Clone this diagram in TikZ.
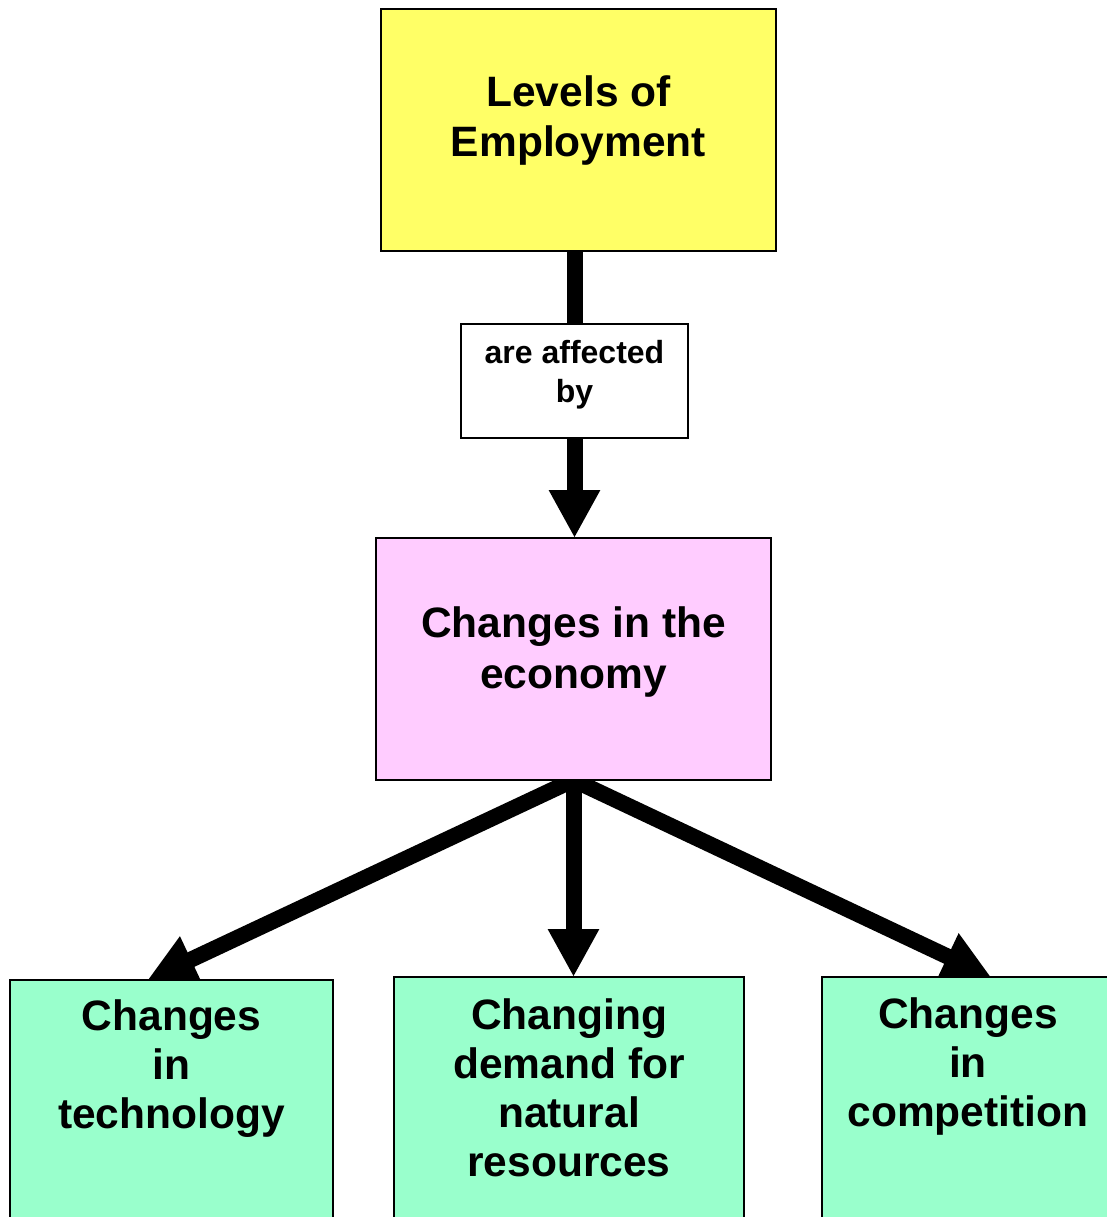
\documentclass[tikz,border=0pt]{standalone}
\usepackage{fontspec}
\setmainfont{Liberation Sans}
\usetikzlibrary{arrows.meta,backgrounds}
\definecolor{ylw}{RGB}{255,255,102}
\definecolor{pnk}{RGB}{255,204,255}
\definecolor{grn}{RGB}{153,255,204}
\newcommand\boxtext[6]{\begin{minipage}[c][#2][t]{#1}\centering\fontsize{#3}{#4}\selectfont\bfseries\vspace*{#5}\strut #6\end{minipage}}
\begin{document}
\begin{tikzpicture}[x=1pt,y=-1pt,
  boxst/.style={draw=black, line width=1.6pt, rectangle, inner sep=0pt, outer sep=0pt},
  conn/.style={line width=16pt, black},
  headtip/.style={-{Triangle[width=48pt,length=48pt]}}]
\path[use as bounding box] (0,0) rectangle (1106,1217);
\node[boxst, fill=ylw] (lev) at (578.5,130) {\boxtext{395pt}{242pt}{42.5}{50}{63pt}{Levels of\\Employment}};
\node[boxst, fill=white] (aff) at (574.5,381) {\boxtext{227pt}{114pt}{32}{39}{12pt}{are affected\\by}};
\node[boxst, fill=pnk] (eco) at (573.5,659) {\boxtext{395pt}{242pt}{42.5}{51}{63.3pt}{Changes in the\\economy}};
\node[boxst, fill=grn] (tech) at (171.5,1130) {\boxtext{323pt}{300pt}{42.5}{49}{15.7pt}{Changes\\in\\technology}};
\node[boxst, fill=grn] (nat) at (569,1127) {\boxtext{350pt}{300pt}{42.5}{49}{17.7pt}{Changing\\demand for\\natural\\resources}};
\node[boxst, fill=grn] (comp) at (968,1127) {\boxtext{292pt}{300pt}{42.5}{49}{16.7pt}{Changes\\in\\competition}};
\begin{scope}[on background layer]
\draw[conn] (lev.south -| aff.center) -- (aff.north);
\draw[conn, headtip] (aff.south) -- (aff.south |- eco.north);
\draw[conn, headtip] (eco.south) -- ([xshift=-24pt]tech.north);
\draw[conn, headtip] (eco.south) -- (eco.south |- nat.north);
\draw[conn, headtip] (eco.south) -- ([xshift=23pt]comp.north);
\end{scope}
\end{tikzpicture}
\end{document}
